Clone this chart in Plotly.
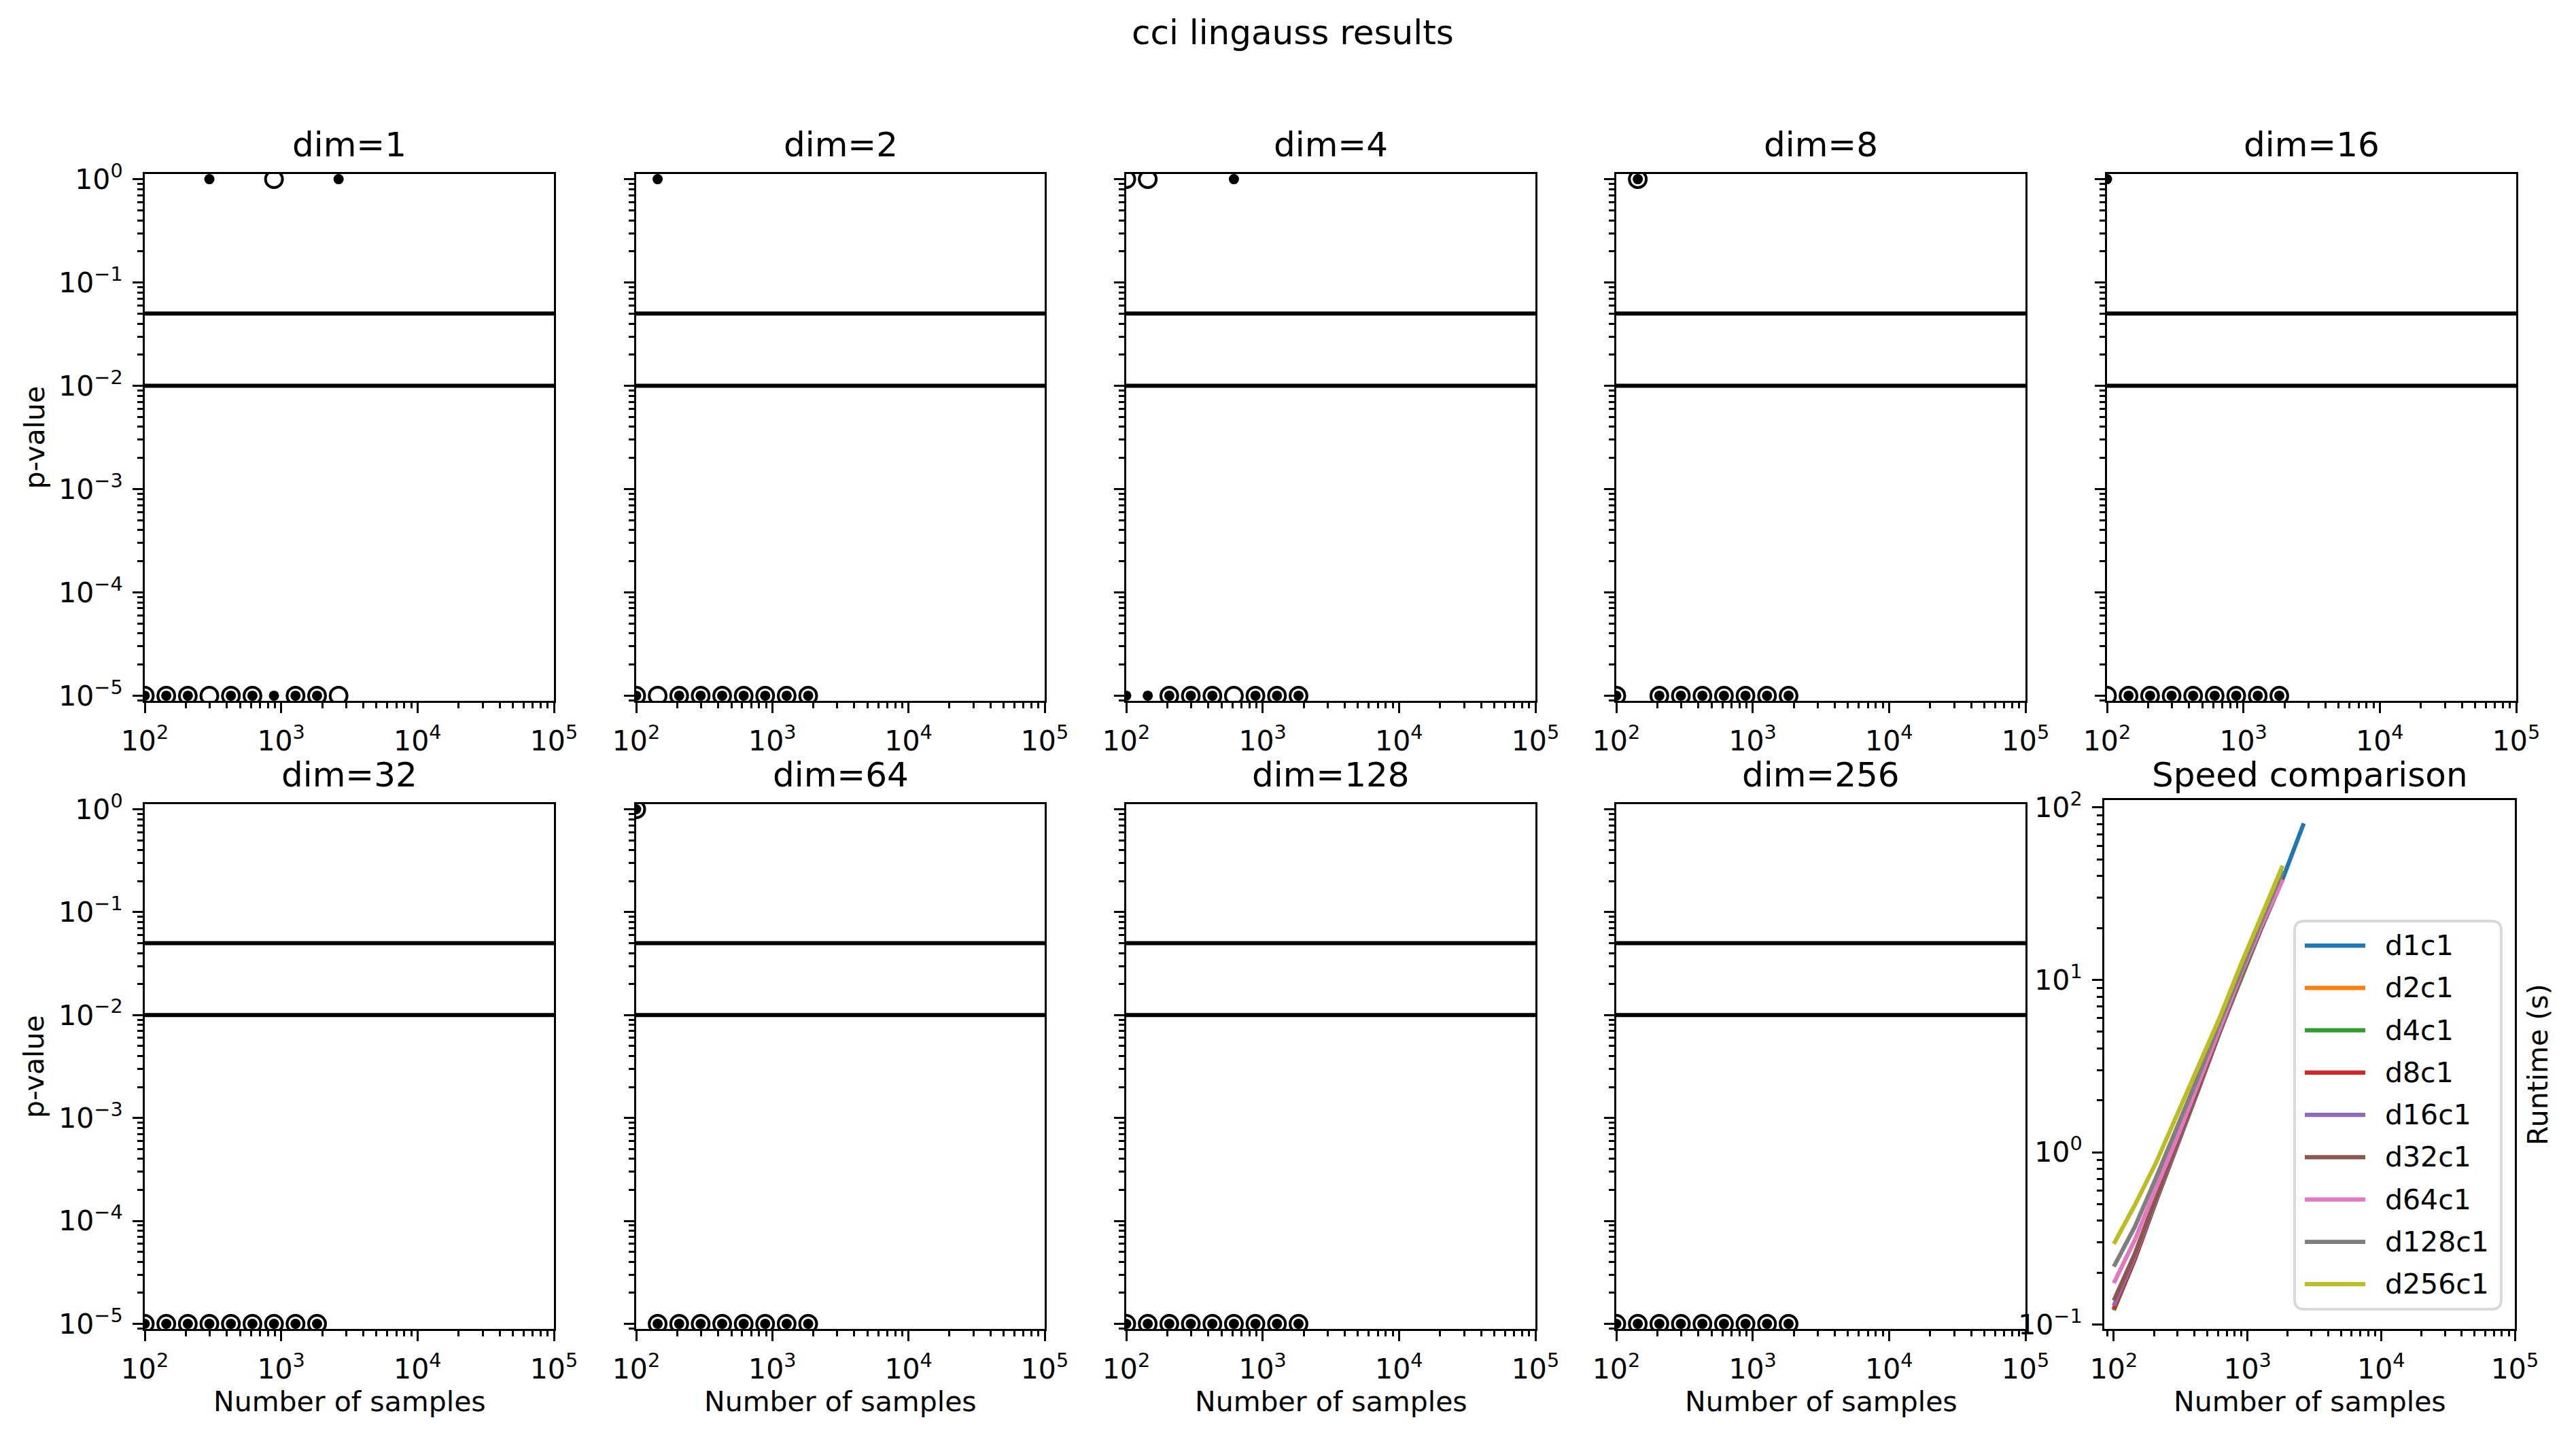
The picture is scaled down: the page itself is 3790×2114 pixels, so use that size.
import plotly.graph_objects as go

# ---------------- data ----------------
n_samples = [100.0, 143.8, 206.9, 297.6, 428.1, 615.8, 885.9, 1274.3, 1833.0, 2636.7]

dims = [1, 2, 4, 8, 16, 32, 64, 128, 256]

# p-values, open-circle series
pv_open = {
    1:   [1e-5, 1e-5, 1e-5, 1e-5, 1e-5, 1e-5, 1.0, 1e-5, 1e-5, 1e-5],
    2:   [1e-5, 1e-5, 1e-5, 1e-5, 1e-5, 1e-5, 1e-5, 1e-5, 1e-5],
    4:   [1.0, 1.0, 1e-5, 1e-5, 1e-5, 1e-5, 1e-5, 1e-5, 1e-5],
    8:   [1e-5, 1.0, 1e-5, 1e-5, 1e-5, 1e-5, 1e-5, 1e-5, 1e-5],
    16:  [1e-5, 1e-5, 1e-5, 1e-5, 1e-5, 1e-5, 1e-5, 1e-5, 1e-5],
    32:  [1e-5, 1e-5, 1e-5, 1e-5, 1e-5, 1e-5, 1e-5, 1e-5, 1e-5],
    64:  [1.0, 1e-5, 1e-5, 1e-5, 1e-5, 1e-5, 1e-5, 1e-5, 1e-5],
    128: [1e-5, 1e-5, 1e-5, 1e-5, 1e-5, 1e-5, 1e-5, 1e-5, 1e-5],
    256: [1e-5, 1e-5, 1e-5, 1e-5, 1e-5, 1e-5, 1e-5, 1e-5, 1e-5],
}
# p-values, small filled-dot series
pv_dot = {
    1:   [1e-5, 1e-5, 1e-5, 1.0, 1e-5, 1e-5, 1e-5, 1e-5, 1e-5, 1.0],
    2:   [1e-5, 1.0, 1e-5, 1e-5, 1e-5, 1e-5, 1e-5, 1e-5, 1e-5],
    4:   [1e-5, 1e-5, 1e-5, 1e-5, 1e-5, 1.0, 1e-5, 1e-5, 1e-5],
    8:   [1e-5, 1.0, 1e-5, 1e-5, 1e-5, 1e-5, 1e-5, 1e-5, 1e-5],
    16:  [1.0, 1e-5, 1e-5, 1e-5, 1e-5, 1e-5, 1e-5, 1e-5, 1e-5],
    32:  [1e-5, 1e-5, 1e-5, 1e-5, 1e-5, 1e-5, 1e-5, 1e-5, 1e-5],
    64:  [1.0, 1e-5, 1e-5, 1e-5, 1e-5, 1e-5, 1e-5, 1e-5, 1e-5],
    128: [1e-5, 1e-5, 1e-5, 1e-5, 1e-5, 1e-5, 1e-5, 1e-5, 1e-5],
    256: [1e-5, 1e-5, 1e-5, 1e-5, 1e-5, 1e-5, 1e-5, 1e-5, 1e-5],
}

alpha_levels = [0.05, 0.01]
alpha_x = [100, 100000]

# runtimes (s)
rt_d1 = [0.122, 0.240, 0.520, 1.08, 2.30, 4.90, 10.1, 20.0, 38.5, 80.9]
rt_d2 = [0.124, 0.242, 0.525, 1.09, 2.31, 4.92, 10.15, 20.1, 38.6]
rt_d4 = [0.121, 0.239, 0.520, 1.08, 2.30, 4.91, 10.1, 20.0, 38.4]
rt_d8 = [0.123, 0.241, 0.523, 1.09, 2.31, 4.93, 10.2, 20.2, 38.7]
rt_d16 = [0.129, 0.248, 0.530, 1.10, 2.33, 4.95, 10.2, 20.2, 38.8]
rt_d32 = [0.138, 0.258, 0.545, 1.12, 2.36, 4.98, 10.3, 20.3, 38.9]
rt_d64 = [0.174, 0.310, 0.620, 1.22, 2.50, 5.20, 10.6, 20.7, 38.2]
rt_d128 = [0.217, 0.370, 0.710, 1.38, 2.75, 5.60, 11.3, 22.0, 43.0]
rt_d256 = [0.294, 0.494, 0.869, 1.64, 3.09, 5.97, 12.1, 23.3, 46.0]
runtimes = [rt_d1, rt_d2, rt_d4, rt_d8, rt_d16, rt_d32, rt_d64, rt_d128, rt_d256]
rt_labels = ["d1c1", "d2c1", "d4c1", "d8c1", "d16c1", "d32c1", "d64c1", "d128c1", "d256c1"]
rt_colors = ["#1f77b4", "#ff7f0e", "#2ca02c", "#d62728", "#9467bd",
             "#8c564b", "#e377c2", "#7f7f7f", "#bcbd22"]

x_tickvals = [1e2, 1e3, 1e4, 1e5]
x_ticktext = ["10<sup>2</sup>", "10<sup>3</sup>", "10<sup>4</sup>", "10<sup>5</sup>"]
p_tickvals = [1e-5, 1e-4, 1e-3, 1e-2, 1e-1, 1e0]
p_ticktext = ["10<sup>\u22125</sup>", "10<sup>\u22124</sup>", "10<sup>\u22123</sup>",
              "10<sup>\u22122</sup>", "10<sup>\u22121</sup>", "10<sup>0</sup>"]
rt_tickvals = [1e-1, 1e0, 1e1, 1e2]
rt_ticktext = ["10<sup>\u22121</sup>", "10<sup>0</sup>", "10<sup>1</sup>", "10<sup>2</sup>"]

# ---------------- layout geometry ----------------
W, H = 3790, 2114
FONT = "DejaVu Sans"
col_left = [213, 936, 1657, 2378, 3100]
col_right = [815, 1537, 2259, 2980, 3702]
row_top = [256, 1183]
row_bot = [1031, 1955]
speed_box = (3096, 3700, 1177, 1955)
legend_box = (3376, 3680, 1355, 1926)
legend_first_y = 1391
legend_step = 62.25

def minor_vals(lo, hi):
    out = []
    for d in range(lo, hi + 1):
        for k in range(2, 10):
            out.append(k * 10.0 ** d)
    return out

LW = 3.3
TICKFONT = dict(family=FONT, size=41, color="black")

def axis_common():
    return dict(type="log", showline=True, linecolor="black", linewidth=LW, mirror=True,
                ticks="outside", ticklen=15, tickwidth=LW, tickcolor="black",
                showgrid=False, zeroline=False, tickfont=TICKFONT, tickmode="array",
                ticklabelstandoff=6, automargin=False)

def px(x):
    return x / W

def py(y):
    return 1 - y / H

fig = go.Figure()
layout = dict(width=W, height=H, margin=dict(l=0, r=0, t=0, b=0, pad=0, autoexpand=False),
              plot_bgcolor="white", paper_bgcolor="white", showlegend=False,
              font=dict(family=FONT, color="black"))
annotations = []
shapes = []

for i, d in enumerate(dims):
    r, c = divmod(i, 5)
    ax = "" if i == 0 else str(i + 1)
    xa, ya = "x" + ax, "y" + ax
    xd = [px(col_left[c]), px(col_right[c])]
    yd = [py(row_bot[r]), py(row_top[r])]
    xs = n_samples[:len(pv_open[d])]
    xaxis = axis_common()
    xaxis.update(domain=xd, anchor=ya, range=[2, 5], tickvals=x_tickvals, ticktext=x_ticktext,
                 minor=dict(ticks="outside", ticklen=8, tickwidth=2.5, tickcolor="black",
                            tickmode="array", tickvals=minor_vals(2, 4)))
    yaxis = axis_common()
    yaxis.update(domain=yd, anchor=xa, range=[-5.05, 0.05], tickvals=p_tickvals, ticktext=p_ticktext,
                 showticklabels=(c == 0),
                 minor=dict(ticks="outside", ticklen=8, tickwidth=2.5, tickcolor="black",
                            tickmode="array", tickvals=minor_vals(-6, 0)))
    layout["xaxis" + ax] = xaxis
    layout["yaxis" + ax] = yaxis

    fig.add_trace(go.Scatter(x=xs, y=pv_open[d], mode="markers", xaxis=xa, yaxis=ya,
                             showlegend=False, cliponaxis=True,
                             marker=dict(symbol="circle", size=25, color="rgba(255,255,255,0)",
                                         line=dict(color="black", width=4))))
    fig.add_trace(go.Scatter(x=xs, y=pv_dot[d], mode="markers", xaxis=xa, yaxis=ya,
                             showlegend=False, cliponaxis=True,
                             marker=dict(symbol="circle", size=15, color="black", line=dict(width=0))))
    for a in alpha_levels:
        fig.add_trace(go.Scatter(x=alpha_x, y=[a, a], mode="lines", xaxis=xa, yaxis=ya,
                                 showlegend=False, line=dict(color="black", width=6)))

    cx = px((col_left[c] + col_right[c]) / 2)
    annotations.append(dict(text=f"dim={d}", x=cx, y=py(row_top[r] - 43), xref="paper", yref="paper",
                            showarrow=False, xanchor="center", yanchor="middle",
                            font=dict(family=FONT, size=50, color="black")))
    if c == 0:
        annotations.append(dict(text="p-value", x=px(50), y=py((row_top[r] + row_bot[r]) / 2),
                                xref="paper", yref="paper", showarrow=False, textangle=-90,
                                xanchor="center", yanchor="middle",
                                font=dict(family=FONT, size=41, color="black")))
    if r == 1:
        annotations.append(dict(text="Number of samples", x=cx, y=py(2062), xref="paper", yref="paper",
                                showarrow=False, xanchor="center", yanchor="middle",
                                font=dict(family=FONT, size=41, color="black")))

# speed comparison panel
sl, sr, st, sb = speed_box
xaxis = axis_common()
xaxis.update(domain=[px(sl), px(sr)], anchor="y10", range=[1.929, 5], tickvals=x_tickvals, ticktext=x_ticktext,
             minor=dict(ticks="outside", ticklen=8, tickwidth=2.5, tickcolor="black",
                        tickmode="array", tickvals=minor_vals(1, 4)))
yaxis = axis_common()
yaxis.update(domain=[py(sb), py(st)], anchor="x10", range=[-1.025, 2.043],
             tickvals=rt_tickvals, ticktext=rt_ticktext,
             minor=dict(ticks="outside", ticklen=8, tickwidth=2.5, tickcolor="black",
                        tickmode="array", tickvals=minor_vals(-2, 2)))
layout["xaxis10"] = xaxis
layout["yaxis10"] = yaxis
for rt, lab, col in zip(runtimes, rt_labels, rt_colors):
    fig.add_trace(go.Scatter(x=n_samples[:len(rt)], y=rt, mode="lines", name=lab, xaxis="x10", yaxis="y10",
                             line=dict(color=col, width=6.25)))

# legend (drawn as a frame, key lines and labels in figure coordinates)
lx0, lx1, ly0, ly1 = legend_box
rx, ry = 14 / W, 14 / H
X0, X1, Y0, Y1 = px(lx0), px(lx1), py(ly1), py(ly0)
path = (f"M{X0+rx},{Y0} L{X1-rx},{Y0} Q{X1},{Y0} {X1},{Y0+ry} L{X1},{Y1-ry} Q{X1},{Y1} {X1-rx},{Y1} "
        f"L{X0+rx},{Y1} Q{X0},{Y1} {X0},{Y1-ry} L{X0},{Y0+ry} Q{X0},{Y0} {X0+rx},{Y0} Z")
shapes.append(dict(type="path", path=path, xref="paper", yref="paper",
                   fillcolor="rgba(255,255,255,0.8)", line=dict(color="#d9d9d9", width=4)))
for k, (lab, col) in enumerate(zip(rt_labels, rt_colors)):
    yk = legend_first_y + k * legend_step
    shapes.append(dict(type="line", xref="paper", yref="paper", x0=px(3391), x1=px(3480),
                       y0=py(yk), y1=py(yk), line=dict(color=col, width=6.25)))
    annotations.append(dict(text=lab, x=px(3507), y=py(yk), xref="paper", yref="paper",
                            showarrow=False, xanchor="left", yanchor="middle",
                            font=dict(family=FONT, size=41, color="black")))

scx = px((sl + sr) / 2)
annotations.append(dict(text="Speed comparison", x=scx, y=py(1183 - 43), xref="paper", yref="paper",
                        showarrow=False, xanchor="center", yanchor="middle",
                        font=dict(family=FONT, size=50, color="black")))
annotations.append(dict(text="Number of samples", x=scx, y=py(2062), xref="paper", yref="paper",
                        showarrow=False, xanchor="center", yanchor="middle",
                        font=dict(family=FONT, size=41, color="black")))
annotations.append(dict(text="Runtime (s)", x=px(3734), y=py((st + sb) / 2), xref="paper", yref="paper",
                        showarrow=False, textangle=-90, xanchor="center", yanchor="middle",
                        font=dict(family=FONT, size=41, color="black")))
annotations.append(dict(text="cci lingauss results", x=px(1902), y=py(48), xref="paper", yref="paper",
                        showarrow=False, xanchor="center", yanchor="middle",
                        font=dict(family=FONT, size=50, color="black")))

layout["annotations"] = annotations
layout["shapes"] = shapes
fig.update_layout(**layout)
fig.write_html("out.html", config={"displayModeBar": False},
               post_script="document.body.style.margin='0px';")
